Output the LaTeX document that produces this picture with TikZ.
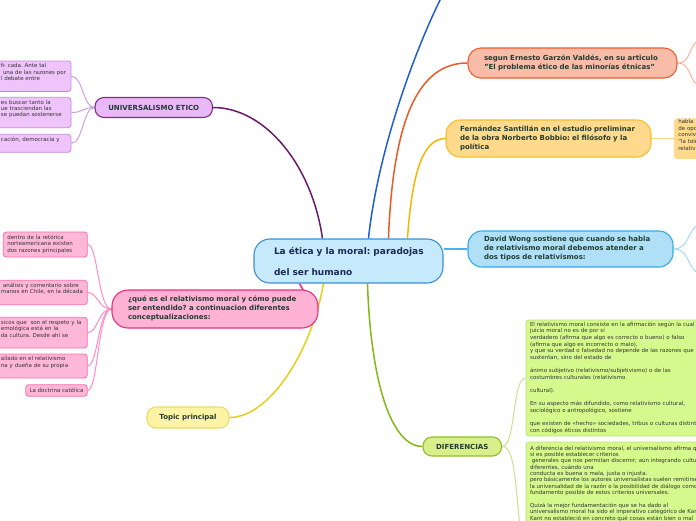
\documentclass[tikz,border=0pt]{standalone}
\usepackage{fontspec}
\setmainfont{DejaVu Sans}
\usetikzlibrary{backgrounds}
\frenchspacing
\definecolor{cfill}{HTML}{C6EAFB}
\definecolor{cborder}{HTML}{3D8FD8}
\definecolor{ctxt}{HTML}{1B2A57}
\definecolor{ntxt}{HTML}{213D30}
\definecolor{ltxt}{HTML}{333333}
\definecolor{bluetop}{HTML}{1F5FCF}
\definecolor{efill}{HTML}{F9BCA9}
\definecolor{eborder}{HTML}{EE5F2F}
\definecolor{eline}{HTML}{EC5A24}
\definecolor{esub}{HTML}{F7B39E}
\definecolor{ffill}{HTML}{FFD98C}
\definecolor{fborder}{HTML}{F7BD2E}
\definecolor{fline}{HTML}{F5B800}
\definecolor{fsub}{HTML}{FFD98C}
\definecolor{wfill}{HTML}{B0E0F8}
\definecolor{wborder}{HTML}{35A9E6}
\definecolor{wline}{HTML}{48B0EA}
\definecolor{wsub}{HTML}{A6DAF6}
\definecolor{uline}{HTML}{6B1A6B}
\definecolor{ufill}{HTML}{E9B8F7}
\definecolor{uborder}{HTML}{7D2F8F}
\definecolor{ulfill}{HTML}{EFC4FA}
\definecolor{ulborder}{HTML}{C58AD6}
\definecolor{usub}{HTML}{C9A3D3}
\definecolor{pline}{HTML}{F0288A}
\definecolor{pfill}{HTML}{FFB2D4}
\definecolor{pborder}{HTML}{EA2F7E}
\definecolor{plfill}{HTML}{FFB7D7}
\definecolor{plborder}{HTML}{F36FAE}
\definecolor{psub}{HTML}{FF8CC2}
\definecolor{tline}{HTML}{E6CF1C}
\definecolor{tfill}{HTML}{FFF3A6}
\definecolor{tborder}{HTML}{EADB6A}
\definecolor{dline}{HTML}{85B817}
\definecolor{dfill}{HTML}{D9F08A}
\definecolor{dborder}{HTML}{8FBF2A}
\definecolor{gfill}{HTML}{D6F98E}
\definecolor{gborder}{HTML}{BFE27A}
\definecolor{dsub}{HTML}{C5E391}
\newcommand\myl[1]{\mbox{\strut#1}}
\tikzset{
  branchbox/.style={draw, line width=1.1pt, font=\fontsize{7}{9}\selectfont\bfseries, text=ntxt, align=left, inner ysep=0pt},
  titlebox/.style={draw, line width=1.1pt, font=\fontsize{7}{9}\selectfont\bfseries, text=ntxt, align=center, inner sep=0pt, rounded corners=9pt},
  leafbox/.style={draw, line width=0.8pt, rounded corners=3pt, font=\fontsize{5.5}{6.4}\selectfont, text=ltxt, align=left, inner ysep=0pt},
  mainlink/.style={line width=1.5pt},
  sublink/.style={line width=1pt}
}
\begin{document}
\begin{tikzpicture}[x=1pt,y=-1pt]
\useasboundingbox (0,0) rectangle (696,520);
\clip (0,0) rectangle (696,520);

% central
\node[draw=cborder, fill=cfill, line width=1.1pt, rounded corners=16pt, font=\fontsize{9}{20.5}\selectfont\bfseries, text=ctxt, align=left, inner xsep=20pt, inner ysep=0pt, text width=149pt, minimum height=44pt] (c) at (348.5,261) {\myl{La ética y la moral: paradojas}\\\myl{del ser humano}};

% main branches
\node[branchbox, draw=eborder, fill=efill, rounded corners=13pt, inner xsep=16pt, text width=177pt, minimum height=30pt] (e) at (572.5,63) {\myl{segun Ernesto Garzón Valdés, en su articulo}\\\myl{"El problema ético de las minorías étnicas"}};
\node[branchbox, draw=fborder, fill=ffill, rounded corners=14pt, inner xsep=14pt, text width=177pt, minimum height=37pt] (f) at (548.5,138.5) {\myl{Fernández Santillán en el estudio preliminar}\\\myl{de la obra Norberto Bobbio: el filósofo y la}\\\myl{política}};
\node[branchbox, draw=wborder, fill=wfill, rounded corners=14pt, inner xsep=16pt, text width=173pt, minimum height=36pt] (w) at (570.5,249) {\myl{David Wong sostiene que cuando se habla}\\\myl{de relativismo moral debemos atender a}\\\myl{dos tipos de relativismos:}};
\node[branchbox, draw=pborder, fill=pfill, rounded corners=16pt, inner xsep=16pt, text width=174pt, minimum height=38pt] (p) at (215,309) {\myl{¿qué es el relativismo moral y cómo puede}\\\myl{ser entendido? a continuacion diferentes}\\\myl{conceptualizaciones:}};
\node[titlebox, draw=uborder, fill=ufill, minimum width=117.5pt, minimum height=20pt] (u) at (153.75,107.5) {UNIVERSALISMO ETICO};
\node[titlebox, draw=tborder, fill=tfill, minimum width=82pt, minimum height=21pt] (t) at (188,417.5) {Topic principal};
\node[titlebox, draw=dborder, fill=dfill, minimum width=78.5pt, minimum height=19pt] (d) at (462.25,446.5) {DIFERENCIAS};

% purple leaves
\node[leafbox, draw=ulborder, fill=ulfill, inner xsep=5pt, text width=65pt, minimum height=30.5pt] (pb1) at (33.5,76.25) {\myl{\hspace{-2pt}ifi- cada. Ante tal}\\\myl{\hspace{2pt}una de las razones por}\\\myl{l debate entre}\\\myl{}};
\node[leafbox, draw=ulborder, fill=ulfill, inner xsep=5pt, text width=65pt, minimum height=30.4pt] (pb2) at (33.5,112.5) {\myl{es buscar tanto la}\\\myl{ue trasciendan las}\\\myl{se puedan sostenerse}\\\myl{}};
\node[leafbox, draw=ulborder, fill=ulfill, inner xsep=5pt, text width=65pt, minimum height=18pt] (pb3) at (33.5,143.3) {\myl{cación, democracia y}\\\myl{}};

% pink leaves
\node[leafbox, draw=plborder, fill=plfill, inner xsep=4pt, text width=76pt, minimum height=25pt] (pk1) at (45.3,244.5) {\myl{dentro de la retórica}\\\myl{norteamericana existen}\\\myl{dos razones principales}};
\node[leafbox, draw=plborder, fill=plfill, inner xsep=5pt, text width=81.3pt, minimum height=24.4pt] (pk2) at (41.65,292.5) {\myl{\hspace{2pt}análisis y comentario sobre}\\\myl{manos en Chile, en la década}\\\myl{}};
\node[leafbox, draw=plborder, fill=plfill, inner xsep=5pt, text width=81.3pt, minimum height=30.7pt] (pk3) at (41.65,332.65) {\myl{sicos que\ \ son el respeto y la}\\\myl{emológica está en la}\\\myl{da cultura. Desde ahí se}\\\myl{}};
\node[leafbox, draw=plborder, fill=plfill, inner xsep=5pt, text width=81.3pt, minimum height=24pt] (pk4) at (41.65,366) {\myl{allado en el relativismo}\\\myl{na y dueña de su propia}\\\myl{}};
\node[leafbox, draw=plborder, fill=plfill, align=center, inner sep=0pt, minimum width=61.6pt, minimum height=11.6pt] (pk5) at (56.5,390.5) {La doctrina católica};

% Fernandez leaf
\node[leafbox, draw=fsub, fill=ffill, font=\fontsize{5.5}{5.9}\selectfont, inner xsep=4pt, text width=22.7pt, minimum height=36pt] (fc) at (689.65,138.7) {\myl{habla}\\\myl{de opo}\\\myl{convive}\\\myl{"la tole}\\\myl{relativ}\\\myl{}};

% green leaves
\node[leafbox, draw=gborder, fill=gfill, font=\fontsize{5.5}{6.64}\selectfont, inner xsep=4pt, text width=186pt, minimum height=116pt] (g1) at (623,378) {%
\myl{El relativismo moral consiste en la afirmación según la cual el}\\
\myl{juicio moral no es de por sí}\\
\myl{verdadero (afirma que algo es correcto o bueno) o falso}\\
\myl{(afirma que algo es incorrecto o malo),}\\
\myl{y que su verdad o falsedad no depende de las razones que lo}\\
\myl{sustentan, sino del estado de}\\
\myl{}\\
\myl{ánimo subjetivo (relativismo/subjetivismo) o de las}\\
\myl{costumbres culturales (relativismo}\\
\myl{}\\
\myl{cultural).}\\
\myl{}\\
\myl{En su aspecto más difundido, como relativismo cultural,}\\
\myl{sociológico o antropológico, sostiene}\\
\myl{}\\
\myl{que existen de «hecho» sociedades, tribus o culturas distintas}\\
\myl{con códigos éticos distintos}};
\node[leafbox, draw=gborder, fill=gfill, font=\fontsize{5.5}{6.35}\selectfont, inner xsep=4pt, text width=186pt, minimum height=90pt] (g2) at (623,487) {%
\myl{A diferencia del relativismo moral, el universalismo afirma que}\\
\myl{sí es posible establecer criterios}\\
\myl{\ generales que nos permitan discernir; aún integrando culturas}\\
\myl{diferentes, cuándo una}\\
\myl{conducta es buena o mala, justa o injusta.}\\
\myl{pero básicamente los autores universalistas suelen remitirse a}\\
\myl{la universalidad de la razón o la posibilidad de diálogo como}\\
\myl{fundamento posible de estos criterios universales.}\\
\myl{}\\
\myl{Quizá la mejor fundamentación que se ha dado al}\\
\myl{universalismo moral ha sido el imperativo categórico de Kant.}\\
\myl{Kant no estableció en concreto qué cosas están bien o mal}\\
\myl{}};

\coordinate (topout) at (442,-4);
\coordinate (eo1) at (700,40);
\coordinate (eo2) at (700,86);
\coordinate (wo1) at (700,224);
\coordinate (wo2) at (700,274);

\begin{scope}[on background layer]
\fill[white] (0,0) rectangle (696,520);
\draw[mainlink, draw=uline] ([xshift=69pt]c.north west) .. controls (312,165) and (265,107.5) .. (u.east);
\draw[mainlink, draw=bluetop] ([xshift=115pt]c.north west) .. controls (378,150) and (415,50) .. (topout);
\draw[mainlink, draw=eline] ([xshift=135pt]c.north west) .. controls (393,120) and (418,63) .. (e.west);
\draw[mainlink, draw=fline] ([xshift=154pt]c.north west) .. controls (412,175) and (422,138.5) .. (f.west);
\draw[mainlink, draw=wline] (c.east |- w.west) -- (w.west);
\draw[mainlink, draw=pline] ([xshift=46pt]c.south west) -- ([xshift=-14pt,yshift=-3pt]p.north east);
\draw[mainlink, draw=tline] ([xshift=70pt]c.south west) .. controls (312,350) and (270,417.5) .. (t.east);
\draw[mainlink, draw=dline] ([xshift=114pt]c.south west) .. controls (371,385) and (392,446.5) .. (d.west);
% sub links
\foreach \n in {pb1,pb2,pb3}
  \draw[sublink, draw=usub] (u.west) .. controls (83,107.5) and (83,0|-\n.east) .. (\n.east);
\foreach \n in {pk1,pk2,pk3,pk4,pk5}
  \draw[sublink, draw=psub] (p.west) .. controls (98,309) and (98,0|-\n.east) .. (\n.east);
\draw[sublink, draw=esub] (e.east) .. controls (692,63) and (688,44) .. (eo1);
\draw[sublink, draw=esub] (e.east) .. controls (692,63) and (688,82) .. (eo2);
\draw[sublink, draw=wsub] (w.east) .. controls (690,249) and (686,230) .. (wo1);
\draw[sublink, draw=wsub] (w.east) .. controls (690,249) and (686,268) .. (wo2);
\draw[sublink, draw=fsub] (f.east) -- (fc.west);
\draw[sublink, draw=dsub] (d.east) .. controls (516,446.5) and (512,378) .. (g1.west);
\draw[sublink, draw=dsub] (d.east) .. controls (518,446.5) and (514,500) .. ([yshift=-80pt]g2.west);
\end{scope}
\end{tikzpicture}
\end{document}
